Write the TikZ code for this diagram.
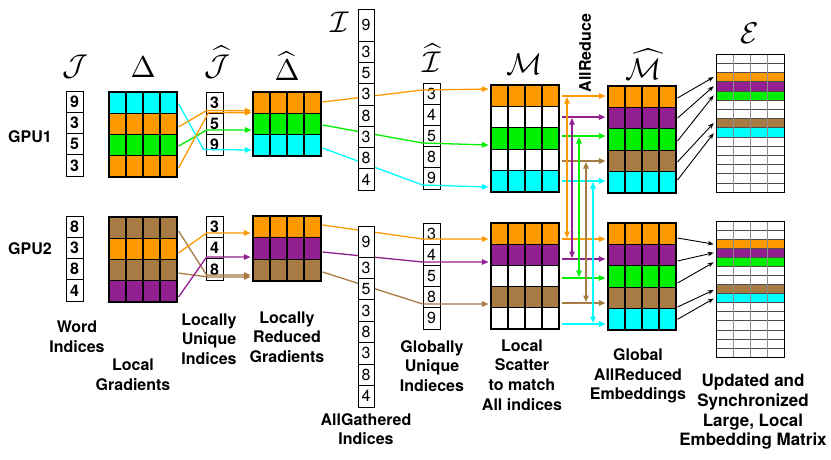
\documentclass[tikz,border=0pt]{standalone}
\usepackage{fontspec}
\setmainfont{TeX Gyre Heros}
\usepackage{amsmath}
\usetikzlibrary{arrows.meta,calc}
\definecolor{corange}{RGB}{255,153,0}
\definecolor{ccyan}{RGB}{0,255,255}
\definecolor{cgreen}{RGB}{0,238,0}
\definecolor{cpurple}{RGB}{146,32,144}
\definecolor{cbrown}{RGB}{168,122,68}
% matrix row: name, left x, centre y, height, colour
\newcommand\MatRow[5]{%
  \foreach \k in {1,2,3,4}{\node[mcell, minimum height=#4pt, fill=#5] (#1-\k) at ({#2+(\k-0.5)*17}, #3) {};}}
% number column: name, centre x, top y, cell height, extra style, values
\newcommand\NumCol[6]{%
  \foreach \v [count=\i] in {#6}{\node[numcell,#5,minimum height=#4pt] (#1-\i) at (#2, {#3+#4*(\i-0.5)}) {\v};}}
% embedding matrix: name, top y, row height
\newcommand\EMat[3]{%
  \foreach \c [count=\r] in {white,white,corange,cpurple,cgreen,white,white,cbrown,ccyan,white,white,white,white,white,white}%
    {\node[erow, fill=\c, minimum height=#3pt] (#1-\r) at (750, {#2+#3*(\r-0.5)}) {};}
  \foreach \k in {1,2,3}{\draw[black!45, line width=0.9pt] ({716+17*\k}, #2) -- ({716+17*\k}, {#2+15*#3});}
  \node[draw, line width=1pt, minimum width=68pt, minimum height=15*#3pt, inner sep=0pt] (#1) at (750, {#2+7.5*#3}) {};}
\begin{document}
\begin{tikzpicture}[x=1pt,y=-1pt,
  numcell/.style={draw, line width=0.8pt, fill=white, minimum width=17pt, inner sep=0pt, font=\fontsize{16}{16}\selectfont},
  bnum/.style={font=\fontsize{16}{16}\selectfont\bfseries},
  mcell/.style={draw, line width=1.1pt, minimum width=17pt, inner sep=0pt},
  erow/.style={draw=black!70, line width=0.6pt, minimum width=68pt, inner sep=0pt},
  lbl/.style={font=\fontsize{16}{19.7}\selectfont\bfseries, align=center, inner sep=0pt},
  mlbl/.style={scale=3, inner sep=0pt},
  flow/.style={line width=1.3pt, -{Triangle[length=6.5pt,width=5.5pt]}},
  dflow/.style={line width=1.3pt, {Triangle[length=6.5pt,width=5.5pt]}-{Triangle[length=6.5pt,width=5.5pt]}},
  blk/.style={line width=0.9pt, -{Stealth[length=6pt,width=4.5pt]}},
]
\useasboundingbox (0,0) rectangle (831,459);

% ---------------- GPU1 ----------------
\NumCol{J1}{74.5}{91}{21.25}{bnum}{9,3,5,3}
\MatRow{D1a}{109}{102.6}{21.25}{ccyan}
\MatRow{D1b}{109}{123.9}{21.25}{corange}
\MatRow{D1c}{109}{145.1}{21.25}{cgreen}
\MatRow{D1d}{109}{166.4}{21.25}{corange}
\NumCol{Jh1}{214.5}{92}{21}{bnum}{3,5,9}
\MatRow{Dh1a}{253}{102.7}{21.33}{corange}
\MatRow{Dh1b}{253}{124}{21.33}{cgreen}
\MatRow{Dh1c}{253}{145.3}{21.33}{ccyan}
\NumCol{Ih1}{431.5}{83}{21.2}{}{3,4,5,8,9}
\MatRow{M1a}{491}{95.7}{21.4}{corange}
\MatRow{M1b}{491}{117.1}{21.4}{white}
\MatRow{M1c}{491}{138.5}{21.4}{cgreen}
\MatRow{M1d}{491}{159.9}{21.4}{white}
\MatRow{M1e}{491}{181.3}{21.4}{ccyan}
\MatRow{Mh1a}{608}{96.7}{21.4}{corange}
\MatRow{Mh1b}{608}{118.1}{21.4}{cpurple}
\MatRow{Mh1c}{608}{139.5}{21.4}{cgreen}
\MatRow{Mh1d}{608}{160.9}{21.4}{cbrown}
\MatRow{Mh1e}{608}{182.3}{21.4}{ccyan}
\EMat{E1}{54}{9.2}

% ---------------- GPU2 ----------------
\NumCol{J2}{74.5}{216}{21.25}{bnum}{8,3,8,4}
\MatRow{D2a}{109}{227.6}{21.25}{cbrown}
\MatRow{D2b}{109}{248.9}{21.25}{corange}
\MatRow{D2c}{109}{270.1}{21.25}{cbrown}
\MatRow{D2d}{109}{291.4}{21.25}{cpurple}
\NumCol{Jh2}{214.5}{216}{21.33}{bnum}{3,4,8}
\MatRow{Dh2a}{253}{226.8}{21.67}{corange}
\MatRow{Dh2b}{253}{248.5}{21.67}{cpurple}
\MatRow{Dh2c}{253}{270.2}{21.67}{cbrown}
\NumCol{Ih2}{431.5}{223}{21.2}{}{3,4,5,8,9}
\MatRow{M2a}{491}{233.6}{21.2}{corange}
\MatRow{M2b}{491}{254.8}{21.2}{cpurple}
\MatRow{M2c}{491}{276}{21.2}{white}
\MatRow{M2d}{491}{297.2}{21.2}{cbrown}
\MatRow{M2e}{491}{318.4}{21.2}{white}
\MatRow{Mh2a}{608}{233.7}{21.4}{corange}
\MatRow{Mh2b}{608}{255.1}{21.4}{cpurple}
\MatRow{Mh2c}{608}{276.5}{21.4}{cgreen}
\MatRow{Mh2d}{608}{297.9}{21.4}{cbrown}
\MatRow{Mh2e}{608}{319.3}{21.4}{ccyan}
\EMat{E2}{221}{9.07}

% ---------------- connectors GPU1 ----------------
\draw[flow, ccyan]   ($(D1a-4.east)+(1,1)$)   -- ($(Jh1-3.west)+(-2,5)$)  -- ($(Dh1c-1.west)+(-1,4.7)$);
\draw[flow, corange] ($(D1b-4.east)+(1,3)$)   -- ($(Jh1-1.west)+(1,8)$)   -- ($(Dh1a-1.west)+(-1,8)$);
\draw[flow, cgreen]  ($(D1c-4.east)+(1,1)$)   -- ($(Jh1-2.west)+(1,6.5)$) -- ($(Dh1b-1.west)+(-1,6)$);
\draw[flow, corange] ($(D1d-4.east)+(1,1.6)$) -- ($(Jh1-1.west)+(3,10)$)  -- ($(Dh1a-1.west)+(-1,10)$);

\draw[flow, corange] ($(Dh1a-4.east)+(1,-0.7)$) -- ($(Ih1-1.west)+(0,-3.6)$) -- ($(M1a-1.west)+(-2,-6.7)$);
\draw[flow, cgreen]  ($(Dh1b-4.east)+(1,1)$)    -- ($(Ih1-3.west)+(0,7)$)    -- ($(M1c-1.west)+(-2,6.5)$);
\draw[flow, ccyan]   ($(Dh1c-4.east)+(1,2.7)$)  -- ($(Ih1-5.west)+(0,6.6)$)  -- ($(M1e-1.west)+(-2,5.7)$);

% ---------------- connectors GPU2 ----------------
\draw[flow, cbrown]  ($(D2a-4.east)+(1,3.4)$) -- ($(Jh2-3.west)+(1,5.7)$) -- ($(Dh2c-1.west)+(-2,4.8)$);
\draw[flow, corange] ($(D2b-4.east)+(1,4)$)   -- ($(Jh2-1.west)+(1,6.3)$) -- ($(Dh2a-1.west)+(-2,6.2)$);
\draw[flow, cbrown]  ($(D2c-4.east)+(1,3)$)   -- ($(Jh2-3.west)+(3,7.7)$) -- ($(Dh2c-1.west)+(-2,6.8)$);
\draw[flow, cpurple] ($(D2d-4.east)+(1,5.6)$) -- ($(Jh2-2.west)+(1,9)$)   -- ($(Dh2b-1.west)+(-2,8.5)$);

\draw[flow, corange] ($(Dh2a-4.east)+(1,-1.8)$) -- ($(Ih2-1.west)+(0,5.4)$) -- ($(M2a-1.west)+(-2,5.4)$);
\draw[flow, cpurple] ($(Dh2b-4.east)+(1,3.5)$)  -- ($(Ih2-2.west)+(0,7.2)$) -- ($(M2b-1.west)+(-2,7.2)$);
\draw[flow, cbrown]  ($(Dh2c-4.east)+(1,1.8)$)  -- ($(Ih2-4.west)+(0,6.8)$) -- ($(M2d-1.west)+(-2,6.8)$);

% ---------------- AllReduce ----------------
\draw[flow, corange] ($(M1a-4.east)+(2,0.3)$)  -- ($(Mh1a-1.west)+(-2,-0.7)$);
\draw[flow, cpurple] ($(M1b-4.east)+(2,0)$)    -- ($(Mh1b-1.west)+(-2,-1)$);
\draw[flow, cgreen]  ($(M1c-4.east)+(2,-2.5)$) -- ($(Mh1c-1.west)+(-2,-3.5)$);
\draw[flow, cbrown]  ($(M1d-4.east)+(2,1.1)$)  -- ($(Mh1d-1.west)+(-2,0.1)$);
\draw[flow, ccyan]   ($(M1e-4.east)+(2,-0.3)$) -- ($(Mh1e-1.west)+(-2,-1.3)$);
\draw[flow, corange] ($(M2a-4.east)+(2,5.4)$)  -- ($(Mh2a-1.west)+(-2,5.3)$);
\draw[flow, cpurple] ($(M2b-4.east)+(2,4.2)$)  -- ($(Mh2b-1.west)+(-2,3.9)$);
\draw[flow, cgreen]  ($(M2c-4.east)+(2,2)$)    -- ($(Mh2c-1.west)+(-2,1.5)$);
\draw[flow, cbrown]  ($(M2d-4.east)+(2,5.8)$)  -- ($(Mh2d-1.west)+(-2,5.1)$);
\draw[flow, ccyan]   ($(M2e-4.east)+(2,5.6)$)  -- ($(Mh2e-1.west)+(-2,4.7)$);

\coordinate (vo1) at (567,97);  \coordinate (vo2) at (567,238);
\coordinate (vp1) at (572,118); \coordinate (vp2) at (572,258);
\coordinate (vg1) at (579,137); \coordinate (vg2) at (579,277);
\coordinate (vb1) at (586,162); \coordinate (vb2) at (586,302);
\coordinate (vc1) at (593,182); \coordinate (vc2) at (593,323);
\draw[dflow, corange] (vo1) -- (vo2);
\draw[dflow, cpurple] (vp1) -- (vp2);
\draw[dflow, cgreen]  (vg1) -- (vg2);
\draw[dflow, cbrown]  (vb1) -- (vb2);
\draw[dflow, ccyan]   (vc1) -- (vc2);

% ---------------- to embedding matrix ----------------
\draw[blk] ($(Mh1a-4.east)+(1,1.3)$)  -- ($(E1-3.west)+(-2,0)$);
\draw[blk] ($(Mh1b-4.east)+(1,0)$)    -- ($(E1-4.west)+(-2,0)$);
\draw[blk] ($(Mh1c-4.east)+(1,1.5)$)  -- ($(E1-5.west)+(-2,0)$);
\draw[blk] ($(Mh1d-4.east)+(1,1)$)    -- ($(E1-8.west)+(-2,0)$);
\draw[blk] ($(Mh1e-4.east)+(1,-2.3)$) -- ($(E1-9.west)+(-2,1)$);
\draw[blk] ($(Mh2a-4.east)+(1,4.3)$)  -- ($(E2-3.west)+(-2,0.5)$);
\draw[blk] ($(Mh2b-4.east)+(1,5.9)$)  -- ($(E2-4.west)+(-2,0)$);
\draw[blk] ($(Mh2c-4.east)+(1,6.5)$)  -- ($(E2-5.west)+(-2,0.5)$);
\draw[blk] ($(Mh2d-4.east)+(1,9.1)$)  -- ($(E2-8.west)+(-2,1)$);
\draw[blk] ($(Mh2e-4.east)+(1,0)$)    -- ($(E2-9.west)+(-2,0.5)$);

% ---------------- gathered index columns (on top) ----------------
\node[numcell, minimum width=16pt, minimum height=32pt] (I1-0) at (366,25) {9};
\NumCol{I1}{366}{41}{21.3}{minimum width=16pt}{3,5,3,8,3,8,4}
\node[numcell, minimum width=16pt, minimum height=31pt] (I2-0) at (366,241.5) {9};
\NumCol{I2}{366}{257}{21.43}{minimum width=16pt}{3,5,3,8,3,8,4}

% ---------------- symbols ----------------
\node[mlbl] (lJ)  at (75,67)  {$\mathcal{J}$};
\node[mlbl] (lD)  at (143,67) {$\Delta$};
\node[mlbl] (lJh) at (217,62) {$\widehat{\mathcal{J}}$};
\node[mlbl] (lDh) at (287,66) {$\widehat{\Delta}$};
\node[mlbl] (lI)  at (340,22) {$\mathcal{I}$};
\node[mlbl] (lIh) at (432,58) {$\widehat{\mathcal{I}}$};
\node[mlbl] (lM)  at (525,64) {$\mathcal{M}$};
\node[mlbl] (lMh) at (644,64) {$\widehat{\mathcal{M}}$};
\node[mlbl] (lE)  at (750,33) {$\mathcal{E}$};

% ---------------- texts ----------------
\node[lbl] (tGPU1) at (30,137) {GPU1};
\node[lbl] (tGPU2) at (30,249) {GPU2};
\node[lbl] (tWord) at (77,337) {Word\\Indices};
\node[lbl] (tLG)   at (133,375) {Local\\Gradients};
\node[lbl] (tLUI)  at (209,339) {Locally\\Unique\\Indices};
\node[lbl] (tLRG)  at (287,337) {Locally\\Reduced\\Gradients};
\node[lbl] (tAG)   at (366,429) {AllGathered\\Indices};
\node[lbl] (tGUI)  at (432,366) {Globally\\Unique\\Indieces};
\node[lbl] (tLS)   at (522,375) {Local\\Scatter\\to match\\All indices};
\node[lbl] (tGAE)  at (638,376) {Global\\AllReduced\\Embeddings};
\node[lbl, font=\fontsize{17}{19.7}\selectfont\bfseries] (tUS) at (753,412) {Updated and\\Synchronized\\Large, Local\\Embedding Matrix};
\node[lbl, rotate=90] (tAR) at (585,53) {AllReduce};
\end{tikzpicture}
\end{document}
